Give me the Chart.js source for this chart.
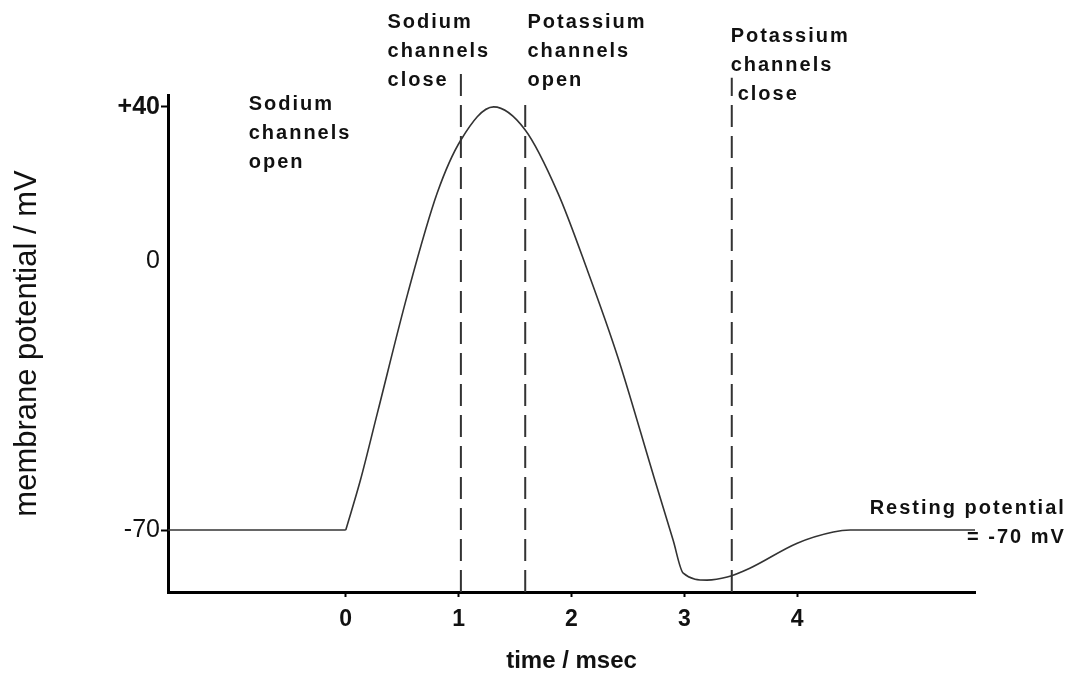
<!DOCTYPE html>
<html>
<head>
<meta charset="utf-8">
<script src="https://cdn.jsdelivr.net/npm/chart.js@4/dist/chart.umd.min.js"></script>
<style>
  html, body { margin: 0; padding: 0; background: #fff; }
  #wrap { width: 1085px; height: 676px; position: relative; }
</style>
</head>
<body>
<div id="wrap"><canvas id="ap"></canvas></div>
<script>
/* ══ Action potential ══ */

// membrane potential trace (time in msec, potential in mV)
const timeMs      = [-1.575, 0, 0.13, 0.28, 0.55, 0.81, 1.02, 1.31, 1.59, 1.88, 2.14, 2.41, 2.73, 2.90, 2.99, 3.20, 3.38, 3.58, 4.00, 4.32, 4.47, 5.575];
const potentialMv = [-70, -70, -57, -39.6, -8.4, 17.6, 31.4, 40, 34, 17.6, -2.4, -25, -56.2, -72.6, -81.2, -83, -82.2, -79.9, -73.4, -70.5, -70, -70];

// dashed event markers
const markerTimes = [1.02, 1.59, 3.42];
const markerTops  = [50.9, 41.3, 47.6];

// axis ticks
const xTicks = [0, 1, 2, 3, 4];
const yTicks = [-70, 0, 40];
const yTickLabels = { '-70': '-70', '0': '0', '40': '+40' };

// annotation texts
const labelTexts = [
  ['Sodium', 'channels', 'open'],
  ['Sodium', 'channels', 'close'],
  ['Potassium', 'channels', 'open'],
  ['Potassium', 'channels', 'close'],
  ['Resting potential', '= -70 mV']
];

const X_MIN = -1.575, X_MAX = 5.575, Y_MIN = -86.1, Y_MAX = 43.1;
const INK = '#333';

const pts = timeMs.map((t, i) => ({ x: t, y: potentialMv[i] }));

const markerSets = markerTimes.map((t, i) => ({
  data: [{ x: t, y: Y_MIN }, { x: t, y: markerTops[i] }],
  borderColor: INK, borderWidth: 2, borderDash: [22, 9],
  pointRadius: 0, tension: 0, clip: false
}));

// text labels, anchored in data units
const annot = {
  id: 'annot',
  afterDraw(chart) {
    const { ctx: cx, scales: { x, y } } = chart;
    const place = [
      { t: -0.86, v: 40.7, align: 'left' },
      { t: 0.37, v: 62.0, align: 'left' },
      { t: 1.61, v: 62.0, align: 'left' },
      { t: 3.41, v: 58.2, align: 'left' },
      { t: 6.38, v: -64.3, align: 'right' }
    ];
    cx.save();
    cx.fillStyle = '#111';
    cx.font = "bold 20px 'Liberation Sans', Arial, sans-serif";
    cx.letterSpacing = '2px';
    cx.textBaseline = 'middle';
    labelTexts.forEach((lines, i) => {
      const p = place[i];
      cx.textAlign = p.align;
      const px = x.getPixelForValue(p.t);
      const py = y.getPixelForValue(p.v);
      lines.forEach((s, j) => {
        // last line of the closing-potassium note sits just right of its marker
        const dx = (i === 3 && j === 2) ? 7 : 0;
        cx.fillText(s, px + dx, py + j * 29);
      });
    });
    cx.restore();
  }
};

new Chart(document.getElementById('ap').getContext('2d'), {
  type: 'line',
  data: {
    datasets: [
      { data: pts.slice(0, 2), borderColor: INK, borderWidth: 1.6, pointRadius: 0, tension: 0 },
      { data: pts.slice(1), borderColor: INK, borderWidth: 1.6, pointRadius: 0, cubicInterpolationMode: 'monotone' },
      ...markerSets
    ]
  },
  options: {
    responsive: true, maintainAspectRatio: false, animation: false,
    layout: { padding: { top: 95, right: 110, bottom: 0, left: 0 } },
    plugins: { legend: { display: false }, tooltip: { enabled: false } },
    scales: {
      x: {
        type: 'linear', min: X_MIN, max: X_MAX,
        afterBuildTicks: s => { s.ticks = xTicks.map(v => ({ value: v })); },
        afterFit: s => { s.height = 84; },
        border: { display: true, color: '#000', width: 3 },
        grid: { drawOnChartArea: false, drawTicks: true, tickLength: 5, tickWidth: 2, tickColor: '#000' },
        ticks: { color: '#111', padding: 9, maxRotation: 0, font: { size: 23, weight: 'bold', family: "'Liberation Sans', Arial, sans-serif" } },
        title: { display: true, text: 'time / msec', color: '#111', padding: { top: 0, bottom: 0 },
                 font: { size: 24, weight: 'bold', family: "'Liberation Sans', Arial, sans-serif" } }
      },
      y: {
        type: 'linear', min: Y_MIN, max: Y_MAX,
        afterBuildTicks: s => { s.ticks = yTicks.map(v => ({ value: v })); },
        afterFit: s => { s.width = 168; },
        border: { display: true, color: '#000', width: 3 },
        grid: {
          drawOnChartArea: false, drawTicks: true, tickLength: 7, tickWidth: 2,
          tickColor: c => (c.tick && c.tick.value === 0) ? 'rgba(0,0,0,0)' : '#000'
        },
        ticks: {
          color: '#111', padding: 1,
          callback: v => yTickLabels[String(v)],
          font: c => ({ size: 25, weight: (c.tick && c.tick.value === 40) ? 'bold' : 'normal', family: "'Liberation Sans', Arial, sans-serif" })
        },
        title: { display: true, text: 'membrane potential / mV', color: '#111', padding: { top: 9, bottom: 0 },
                 font: { size: 31, weight: 'normal', family: "'Liberation Sans', Arial, sans-serif" } }
      }
    }
  },
  plugins: [annot]
});
</script>
</body>
</html>
